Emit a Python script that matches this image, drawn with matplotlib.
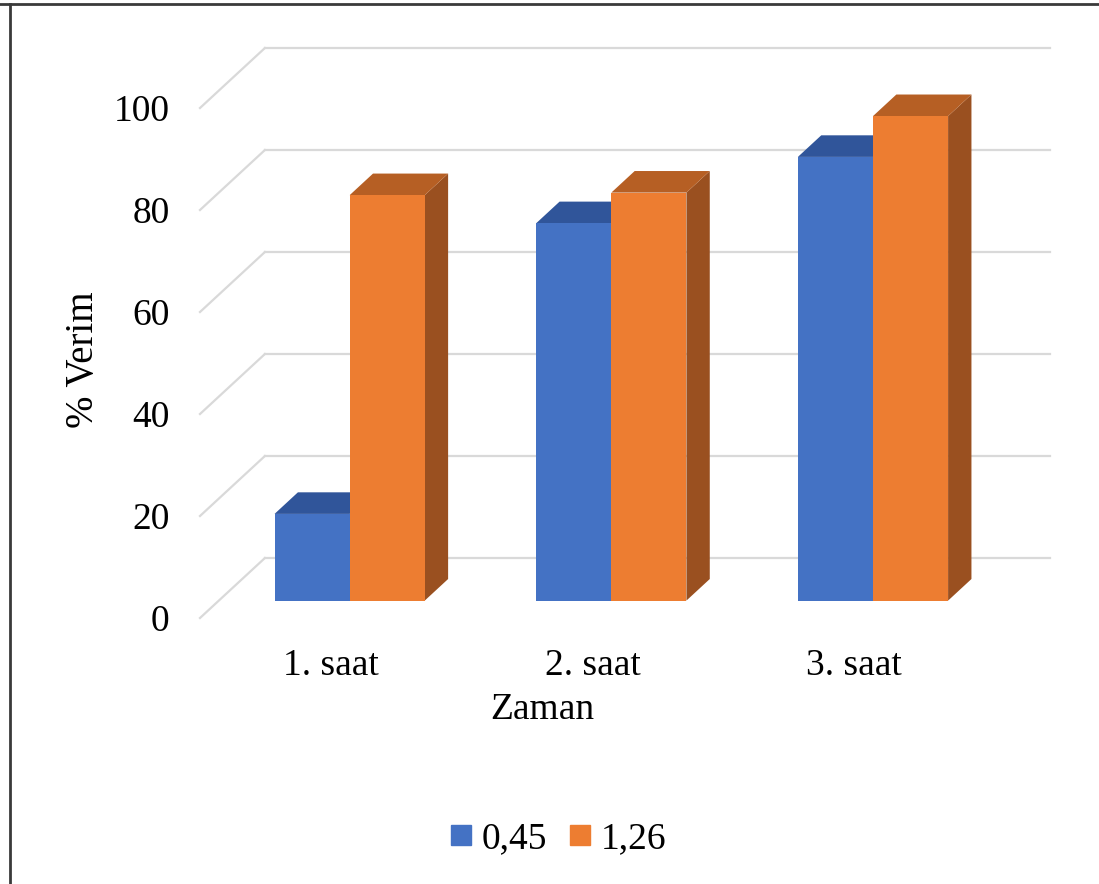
import matplotlib
matplotlib.use("Agg")
import matplotlib.pyplot as plt
from matplotlib.patches import Polygon
from matplotlib.lines import Line2D

# data
categories = ["1. saat", "2. saat", "3. saat"]
series_names = ["0,45", "1,26"]
values_045 = [17, 74, 87]
values_126 = [79.5, 80, 95]
y_ticks = [0, 20, 40, 60, 80, 100]

# styling
FONT = "Liberation Serif"
FS = 27
grid_col = "#d9d9d9"
faces = {
    "0,45": ("#4472C4", "#30559A", "#2B4C8A"),
    "1,26": ("#ED7D31", "#B65F24", "#9A5020"),
}

W, H = 1099, 884
fig = plt.figure(figsize=(W / 100, H / 100), dpi=100)
fig.patch.set_facecolor("white")

# front plane: x 0..3 -> px 200..985, y 0..100 -> px 618..108
left_px, right_px, bot_px, top_px = 200, 985, 618, 108
ax = fig.add_axes([left_px / W, (H - bot_px) / H,
                   (right_px - left_px) / W, (bot_px - top_px) / H])
ax.set_xlim(0, 3)
ax.set_ylim(0, 100)
ax.set_facecolor("none")
for s in ax.spines.values():
    s.set_visible(False)

# oblique depth vector (data units per unit of depth)
DX, DY = 0.248, 11.76

# floor / wall gridlines
for v in y_ticks:
    ax.plot([0, DX], [v, v + DY], color=grid_col, lw=1.6, clip_on=False, zorder=1)
    ax.plot([DX, 3 + DX], [v + DY, v + DY], color=grid_col, lw=1.6,
            clip_on=False, zorder=1)

# 3D columns
bar_w = 0.287
d0, d1 = 0.29, 0.65
ox0, oy0 = d0 * DX, d0 * DY
ox1, oy1 = d1 * DX, d1 * DY

def column(x0, v, cols, z):
    front, top, side = cols
    x1 = x0 + bar_w
    side_poly = [(x1 + ox0, oy0), (x1 + ox1, oy1), (x1 + ox1, v + oy1), (x1 + ox0, v + oy0)]
    top_poly = [(x0 + ox0, v + oy0), (x1 + ox0, v + oy0), (x1 + ox1, v + oy1), (x0 + ox1, v + oy1)]
    front_poly = [(x0 + ox0, oy0), (x1 + ox0, oy0), (x1 + ox0, v + oy0), (x0 + ox0, v + oy0)]
    for poly, c in ((side_poly, side), (top_poly, top), (front_poly, front)):
        ax.add_patch(Polygon(poly, closed=True, facecolor=c, edgecolor="none",
                             clip_on=False, zorder=z))

for i, (a, b) in enumerate(zip(values_045, values_126)):
    center = i + 0.5
    column(center - bar_w, a, faces["0,45"], 3 + i * 2)
    column(center, b, faces["1,26"], 4 + i * 2)

# axis ticks and labels
ax.set_yticks(y_ticks)
ax.set_yticklabels([str(t) for t in y_ticks], fontfamily=FONT, fontsize=FS)
ax.set_xticks([0.5, 1.5, 2.5])
ax.set_xticklabels(categories, fontfamily=FONT, fontsize=FS)
ax.tick_params(axis="y", length=0, pad=22)
ax.tick_params(axis="x", length=0, pad=22)

fig.text(84 / W, 1 - 360 / H, "% Verim", rotation=90, ha="center", va="center",
         fontfamily=FONT, fontsize=28)
fig.text(542 / W, 1 - 710 / H, "Zaman", ha="center", va="center",
         fontfamily=FONT, fontsize=FS)

# legend
handles = [Line2D([], [], marker="s", ls="", ms=14, color=faces[n][0]) for n in series_names]
leg = fig.legend(handles, series_names, loc="center", bbox_to_anchor=(558 / W, 1 - 839 / H),
                 ncol=2, frameon=False, handlelength=0.6, handletextpad=0.25,
                 columnspacing=0.6, prop={"family": FONT, "size": FS})

# outer frame (top and left edges)
fig.add_artist(Line2D([0, 1], [1 - 3.5 / H, 1 - 3.5 / H], transform=fig.transFigure,
                      color="#3a3a3a", lw=2))
fig.add_artist(Line2D([9.5 / W, 9.5 / W], [0, 1 - 3.5 / H], transform=fig.transFigure,
                      color="#3a3a3a", lw=2))

fig.savefig("out.png", dpi=100, facecolor="white")
